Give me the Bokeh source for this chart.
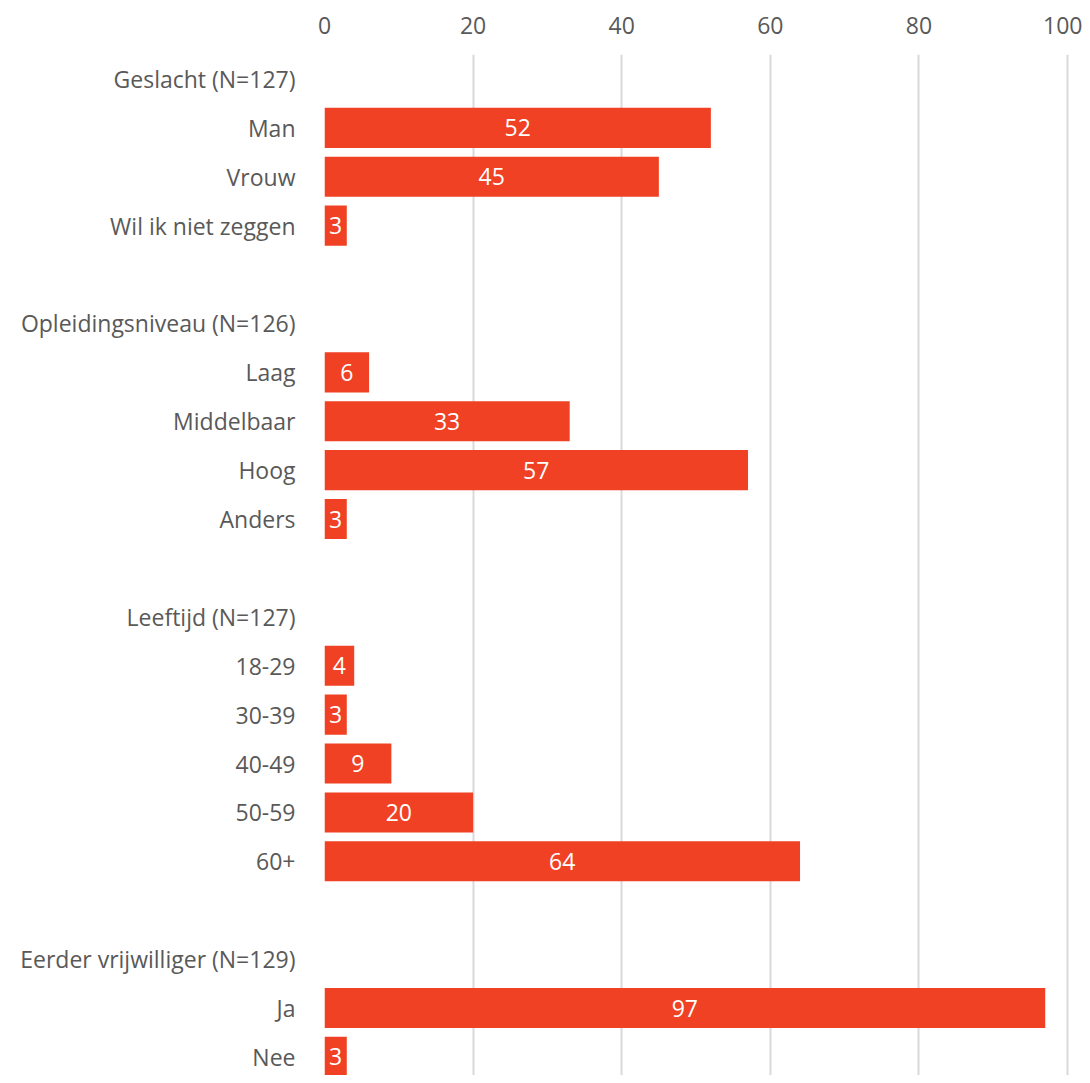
from bokeh.plotting import figure
from bokeh.models import Range1d, FixedTicker, ColumnDataSource
from bokeh.embed import file_html
from bokeh.resources import INLINE
from bokeh.core.properties import value

categories = [
    "Geslacht (N=127)", "Man", "Vrouw", "Wil ik niet zeggen", "",
    "Opleidingsniveau (N=126)", "Laag", "Middelbaar", "Hoog", "Anders", "",
    "Leeftijd (N=127)", "18-29", "30-39", "40-49", "50-59", "60+", "",
    "Eerder vrijwilliger (N=129)", "Ja", "Nee",
]
values = [
    None, 52, 45, 3, None,
    None, 6, 33, 57, 3, None,
    None, 4, 3, 9, 20, 64, None,
    None, 97, 3,
]
x_ticks = [0, 20, 40, 60, 80, 100]

FONT = "Open Sans"
GRAY = "#595959"
BAR = "#F04124"
FS = "23px"

rows = list(range(len(categories)))
bar_rows = [r for r, v in zip(rows, values) if v is not None]
bar_vals = [v for v in values if v is not None]
src = ColumnDataSource(dict(
    y=bar_rows,
    v=bar_vals,
    mid=[v / 2 for v in bar_vals],
    lbl=[str(v) for v in bar_vals],
))

p = figure(
    width=1082, height=1075,
    x_range=Range1d(0, 100.4),
    y_range=Range1d(20.38, -0.5),
    output_backend="svg", toolbar_location=None,
    x_axis_location="above",
    min_border_left=324, min_border_top=54, min_border_bottom=0, min_border_right=12,
)
p.outline_line_color = None
p.background_fill_color = "white"
p.border_fill_color = "white"

p.hbar(y="y", left=0, right="v", height=0.82, source=src,
       fill_color=BAR, line_color=None)
p.text(x="mid", y="y", text="lbl", source=src, text_color="white",
       text_font=value(FONT), text_font_size=FS,
       text_align="center", text_baseline="middle")

xa = p.xaxis[0]
xa.ticker = FixedTicker(ticks=x_ticks)
xa.axis_line_color = None
xa.major_tick_line_color = None
xa.minor_tick_line_color = None
xa.major_label_text_font = FONT
xa.major_label_text_font_size = FS
xa.major_label_text_color = GRAY
xa.major_label_standoff = 15

ya = p.yaxis[0]
ya.ticker = FixedTicker(ticks=rows)
ya.major_label_overrides = {i: c for i, c in enumerate(categories)}
ya.axis_line_color = None
ya.major_tick_line_color = None
ya.minor_tick_line_color = None
ya.major_label_text_font = FONT
ya.major_label_text_font_size = FS
ya.major_label_text_color = GRAY
ya.major_label_standoff = 23

p.xgrid.ticker = FixedTicker(ticks=x_ticks)
p.xgrid.grid_line_color = "#d9d9d9"
p.xgrid.grid_line_width = 2
p.ygrid.grid_line_color = None

open("out.html", "w").write(file_html(p, INLINE))
